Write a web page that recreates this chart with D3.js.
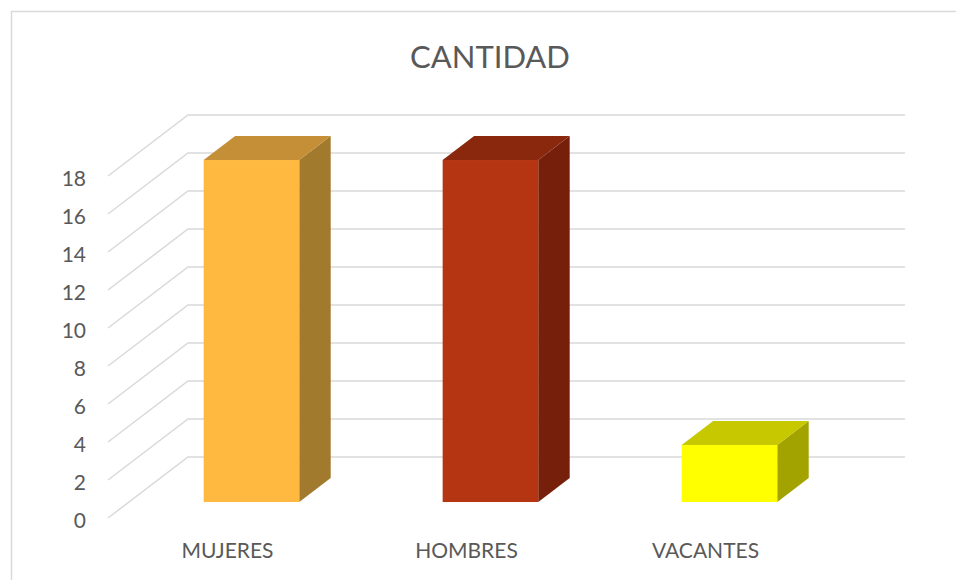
<!DOCTYPE html>
<html>
<head>
<meta charset="utf-8">
<script src="https://cdn.jsdelivr.net/npm/d3@7"></script>
<style>
  body { margin: 0; background: #fff; }
  text { font-family: Lato, "Open Sans", sans-serif; fill: #595959; }
</style>
</head>
<body>
<div id="chart"></div>
<script>
// Data
const categories = ["MUJERES", "HOMBRES", "VACANTES"];
const values = [18, 18, 3];
const yTicks = [0, 2, 4, 6, 8, 10, 12, 14, 16, 18];
const frontColors = ["#FFB941", "#B53411", "#FFFF00"];
const topColors = ["#C48F36", "#8A280E", "#C8C800"];
const sideColors = ["#A27A2D", "#76200C", "#A3A300"];

const width = 956, height = 580;

// 3D frame: front floor corner and the depth vector
const x0 = 108, y0 = 518;
const depth = {dx: 80, dy: -61};
const barZ0 = 0.262, barZ1 = 0.655;
const barShift = 3;

const svg = d3.select("#chart")
  .append("svg")
    .attr("width", width)
    .attr("height", height);

// Chart border
svg.append("rect")
    .attr("x", 11.5)
    .attr("y", 11.5)
    .attr("width", 960)
    .attr("height", 600)
    .attr("fill", "none")
    .attr("stroke", "#D9D9D9")
    .attr("stroke-width", 1.5);

// Title
svg.append("text")
    .attr("x", 490)
    .attr("y", 68)
    .attr("text-anchor", "middle")
    .style("font-size", "31px")
    .text("CANTIDAD");

// Scales
const y = d3.scaleLinear()
    .domain([0, 18])
    .range([0, 342]);

const x = d3.scaleBand()
    .domain(categories)
    .range([0, 717])
    .padding(0);

// Helpers to go from (x along floor, depth, value) to screen
const px = (u, z) => x0 + u + z * depth.dx;
const py = (v, z) => y0 - y(v) + z * depth.dy;

// Gridlines: wall diagonal + back horizontal
const grid = svg.append("g")
    .attr("fill", "none")
    .attr("stroke", "#D9D9D9")
    .attr("stroke-width", 1.5);

yTicks.forEach(t => {
    grid.append("path")
        .attr("d", `M${px(0, 0)},${py(t, 0)} L${px(0, 1)},${py(t, 1)} L${px(x.range()[1], 1)},${py(t, 1)}`);
});

// Y tick labels
svg.append("g")
  .selectAll("text")
  .data(yTicks)
  .join("text")
    .attr("x", 86)
    .attr("y", d => py(d, 0) + 3)
    .attr("dy", "0.35em")
    .attr("text-anchor", "end")
    .style("font-size", "21px")
    .text(d => d);

// Bars
const barW = x.bandwidth() * 0.4;
categories.forEach((c, i) => {
    const left = x(c) + (x.bandwidth() - barW) / 2 + barShift;
    const right = left + barW;
    const v = values[i];
    const g = svg.append("g");

    // side face
    g.append("path")
        .attr("d", `M${px(right, barZ0)},${py(0, barZ0)} L${px(right, barZ1)},${py(0, barZ1)} L${px(right, barZ1)},${py(v, barZ1)} L${px(right, barZ0)},${py(v, barZ0)} Z`)
        .attr("fill", sideColors[i]);

    // top face
    g.append("path")
        .attr("d", `M${px(left, barZ0)},${py(v, barZ0)} L${px(left, barZ1)},${py(v, barZ1)} L${px(right, barZ1)},${py(v, barZ1)} L${px(right, barZ0)},${py(v, barZ0)} Z`)
        .attr("fill", topColors[i]);

    // front face
    g.append("rect")
        .attr("x", px(left, barZ0))
        .attr("y", py(v, barZ0))
        .attr("width", barW)
        .attr("height", y(v))
        .attr("fill", frontColors[i]);
});

// Category labels
svg.append("g")
  .selectAll("text")
  .data(categories)
  .join("text")
    .attr("x", d => px(x(d) + x.bandwidth() / 2, 0))
    .attr("y", 558)
    .attr("text-anchor", "middle")
    .style("font-size", "21px")
    .text(d => d);
</script>
</body>
</html>
